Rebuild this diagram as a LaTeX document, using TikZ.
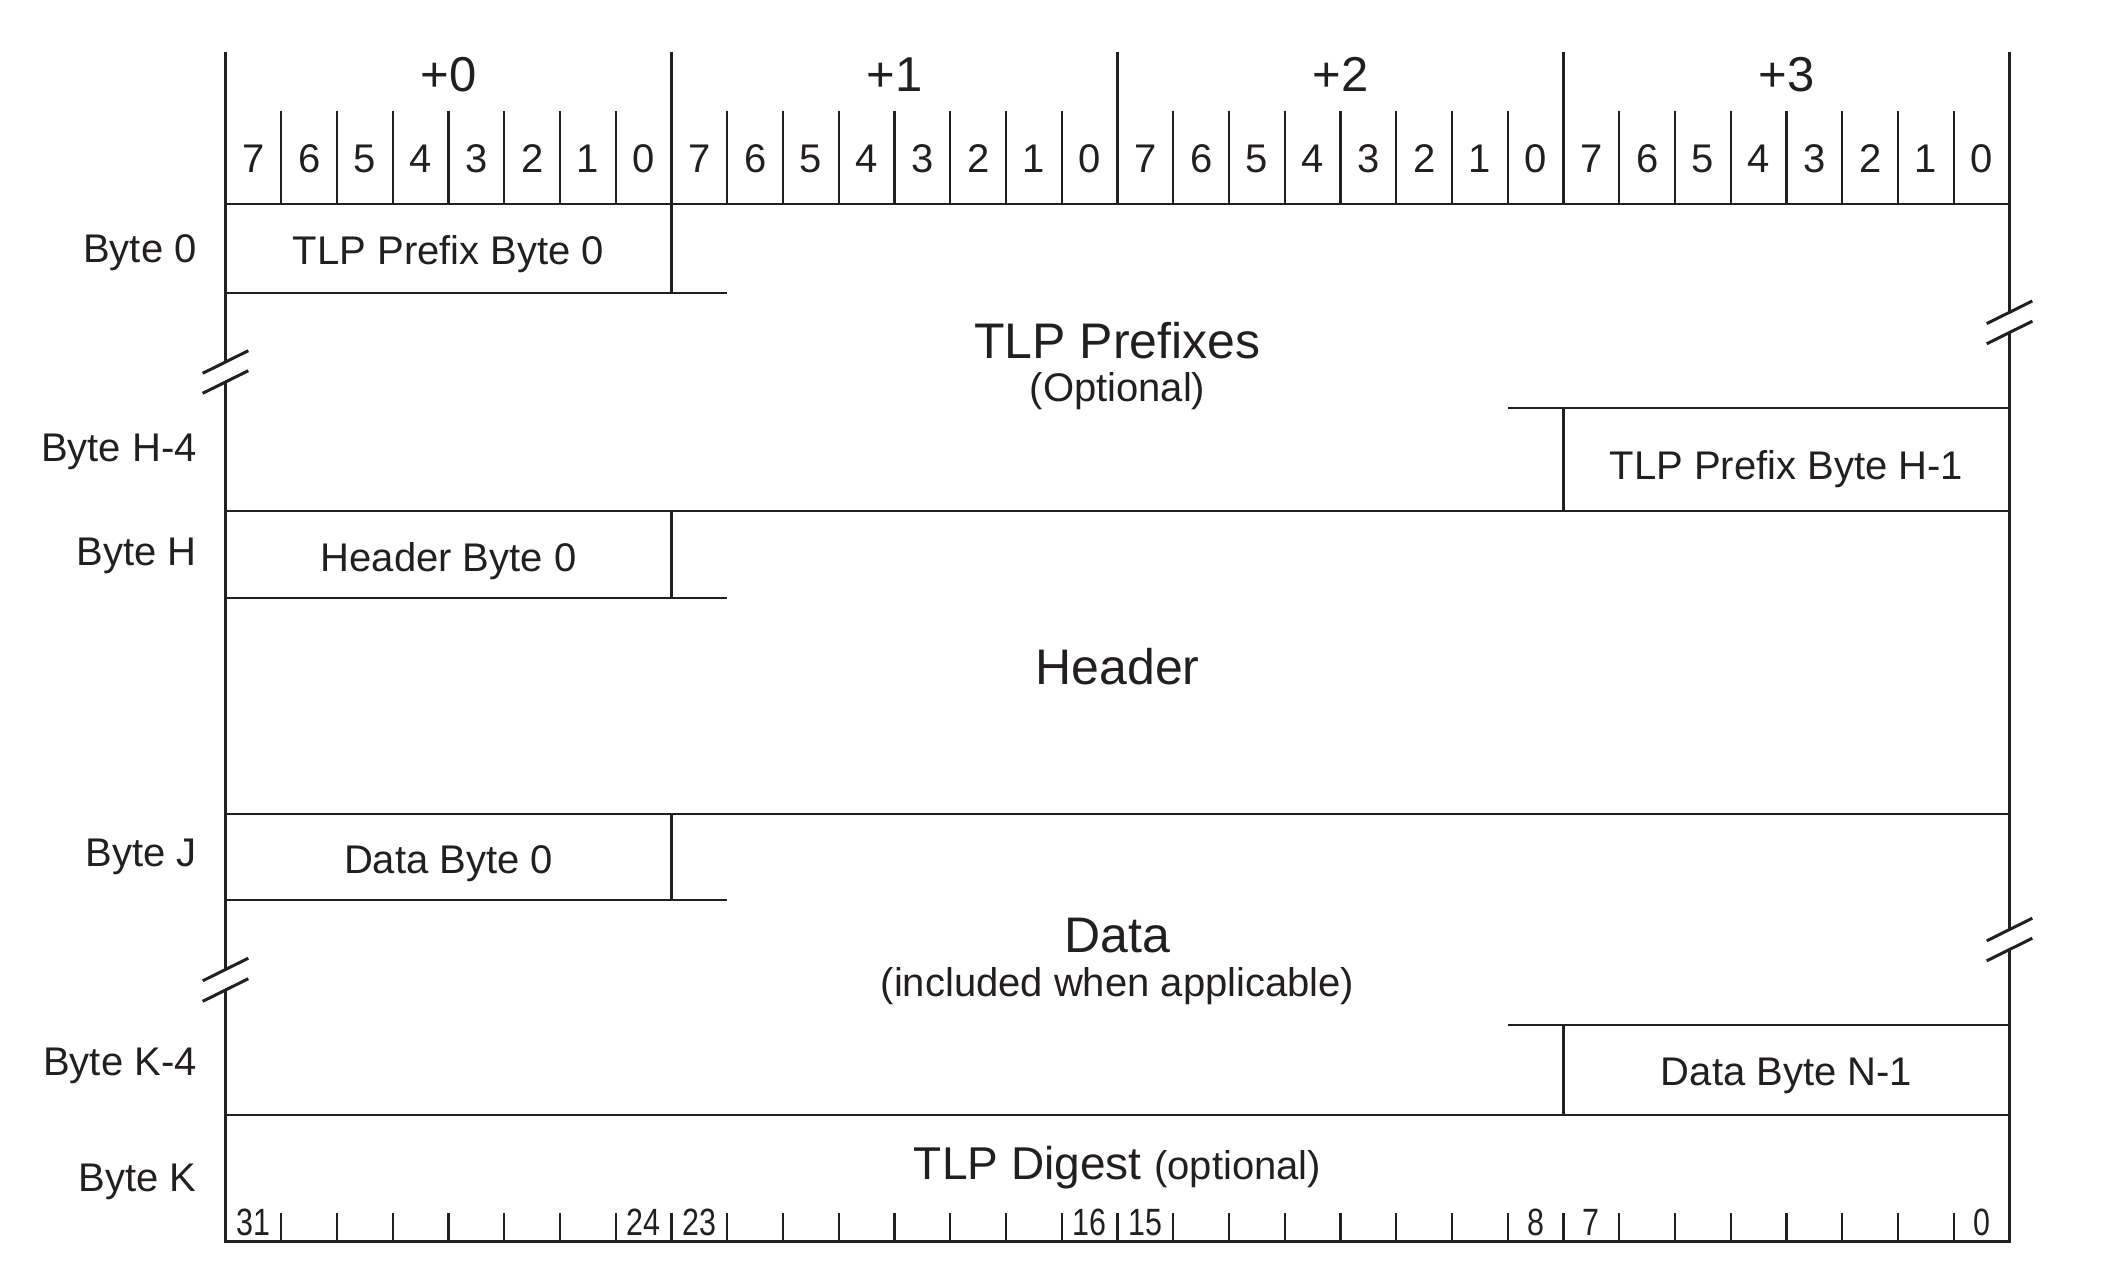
\documentclass[tikz,border=0pt]{standalone}
\usepackage{fontspec}
\setmainfont{Liberation Sans}
\usepackage{xcolor}
\usetikzlibrary{positioning}

\definecolor{ink}{RGB}{35,31,32}
\newcommand{\fsz}[1]{\fontsize{#1}{#1}\selectfont}
\newcommand{\narrow}[1]{\scalebox{0.8}[1]{#1}}

\tikzset{
  border/.style={line width=1.5pt, draw=ink},
  fieldline/.style={line width=1.3pt, draw=ink},
  bittick/.style={line width=1.1pt, draw=ink},
  txt/.style={text=ink, inner sep=0pt, anchor=base},
  rowlbl/.style={txt, anchor=base east, font=\fsz{20}},
}

\begin{document}
\begin{tikzpicture}[x=27.875pt, y=-0.5pt]
    \useasboundingbox (-4.045,0) rectangle (33.874,1272);

    % 字节号与位号
    \foreach \k in {0,...,3}
        \node[txt, font=\fsz{24.5}] (plus\k) at (8*\k+4, 92) {+\k};
    \foreach \k in {0,...,3}
        \foreach \i in {0,...,7} {
            \pgfmathtruncatemacro{\bitv}{7-\i}
            \node[txt, font=\fsz{20}] (bit\k\i) at (8*\k+\i+0.5, 172.7) {\bitv};
        }
    \foreach \i in {1,...,31}
        \draw[bittick] (\i,110.7) -- (\i,204);
    \foreach \i in {8,16,24}
        \draw[border] (\i,52) -- (\i,204);

    % 外框（带断开符号）
    \draw[border] (0,52) -- (0,362) (0,382) -- (0,969.5);
    \draw[border] (32,52) -- (32,312.3) (32,332.5) -- (32,929.5);
    \draw[border] (0,990) -- (0,1241.5) -- (32,1241.5) -- (32,949.5);
    \foreach \xx/\yy in {0/362, 0/382, 0/969.5, 0/990, 32/312.3, 32/332.5, 32/929.5, 32/949.5}
        \draw[border] (\xx-0.409,\yy+11.3) -- (\xx+0.409,\yy-11.3);

    % 各行分隔线
    \draw[fieldline] (0,204) -- (32,204);
    \draw[fieldline] (0,293) -- (9,293);
    \draw[fieldline] (8,204) -- (8,293);
    \draw[fieldline] (23,408) -- (32,408);
    \draw[fieldline] (24,408) -- (24,511);
    \draw[fieldline] (0,511) -- (32,511);
    \draw[fieldline] (8,511) -- (8,598) (0,598) -- (9,598);
    \draw[fieldline] (0,814) -- (32,814);
    \draw[fieldline] (8,814) -- (8,900) (0,900) -- (9,900);
    \draw[fieldline] (23,1025) -- (32,1025);
    \draw[fieldline] (24,1025) -- (24,1115);
    \draw[fieldline] (0,1115) -- (32,1115);

    % 行标签
    \node[rowlbl] (lbl0) at (-0.51,263) {Byte 0};
    \node[rowlbl] (lblH4) at (-0.51,461.7) {Byte H-4};
    \node[rowlbl] (lblH) at (-0.51,565) {Byte H};
    \node[rowlbl] (lblJ) at (-0.51,866) {Byte J};
    \node[rowlbl] (lblK4) at (-0.51,1075) {Byte K-4};
    \node[rowlbl] (lblK) at (-0.51,1191) {Byte K};

    % 字段文字
    \node[txt, font=\fsz{20}] (pfx0) at (4,265) {TLP Prefix Byte 0};
    \node[txt, font=\fsz{25}] (pfx) at (16,358) {TLP Prefixes};
    \node[txt, font=\fsz{20}] (pfxopt) at (16,401) {(Optional)};
    \node[txt, font=\fsz{20}] (pfxlast) at (28,479) {TLP Prefix Byte H-1};
    \node[txt, font=\fsz{20}] (hdr0) at (4,571) {Header Byte 0};
    \node[txt, font=\fsz{25}] (hdr) at (16,684) {Header};
    \node[txt, font=\fsz{20}] (dat0) at (4,873) {Data Byte 0};
    \node[txt, font=\fsz{25}] (dat) at (16,952) {Data};
    \node[txt, font=\fsz{20}] (datopt) at (16,996) {(included when applicable)};
    \node[txt, font=\fsz{20}] (datlast) at (28,1085) {Data Byte N-1};
    \node[txt] (dig) at (16,1179) {{\fsz{23}TLP Digest }{\fsz{20}(optional)}};

    % 底部位刻度
    \foreach \i in {1,...,31}
        \draw[bittick] (\i,1213) -- (\i,1241.5);
    \foreach \c/\n in {0/31, 7/24, 8/23, 15/16, 16/15, 23/8, 24/7, 31/0}
        \node[txt, font=\fsz{19}] (lsb\c) at (\c+0.5,1235) {\narrow{\n}};
\end{tikzpicture}
\end{document}
